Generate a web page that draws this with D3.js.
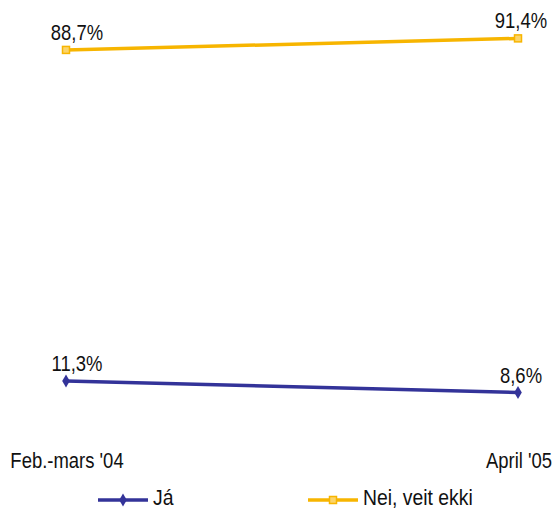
<!DOCTYPE html>
<html><head><meta charset="utf-8">
<script src="https://cdn.jsdelivr.net/npm/d3@7"></script>
<style>body{margin:0;background:#fff}svg{display:block}</style>
</head><body>
<script>
const categories = ["Feb.-mars '04", "April '05"];
const seriesNames = ["Já", "Nei, veit ekki"];
const jaValues = [11.3, 8.6];
const neiValues = [88.7, 91.4];
const colors = ["#333399", "#F7B500"];

const W = 554, H = 509;
const svg = d3.select("body").append("svg").attr("width", W).attr("height", H);
const x = d3.scalePoint().domain(categories).range([66, 518]);
const y = d3.scaleLinear().domain([0, 100]).range([429.3, 1.6]);
const fmt = v => d3.format(".1f")(v).replace(".", ",") + "%";
const font = "'Liberation Sans',Arial,sans-serif";

function narrowText(g, tx, ty, str, anchor, sx) {
  return g.append("text").attr("transform", `translate(${tx},${ty}) scale(${sx || 0.84},1)`)
    .attr("text-anchor", anchor || "start").attr("font-family", font).attr("font-size", 22)
    .attr("fill", "#111").text(str);
}

const series = [jaValues, neiValues];
const labelDx = [11, 3];

series.forEach((vals, si) => {
  const pts = vals.map((v, i) => [x(categories[i]), y(v)]);
  svg.append("path").attr("d", d3.line()(pts)).attr("fill", "none")
    .attr("stroke", colors[si]).attr("stroke-width", 3.5);
  pts.forEach((p, i) => {
    drawMarker(svg, si, p[0], p[1]);
    narrowText(svg, p[0] + labelDx[i], p[1] - 10, fmt(vals[i]), "middle");
  });
});

function drawMarker(g, si, cx, cy) {
  if (si === 0) {
    g.append("path").attr("d", d3.symbol(d3.symbolDiamond, 50)())
      .attr("transform", `translate(${cx},${cy})`).attr("fill", colors[0]);
  } else {
    g.append("rect").attr("x", cx - 3.5).attr("y", cy - 3.5).attr("width", 7).attr("height", 7)
      .attr("fill", "#FBD46A").attr("stroke", colors[1]).attr("stroke-width", 1.5);
  }
}

categories.forEach(c => {
  narrowText(svg, x(c) + 1, 468, c, "middle");
});

const legX = [98, 308];
seriesNames.forEach((n, si) => {
  const ly = 500;
  svg.append("line").attr("x1", legX[si]).attr("x2", legX[si] + 50).attr("y1", ly).attr("y2", ly)
    .attr("stroke", colors[si]).attr("stroke-width", 3.5);
  drawMarker(svg, si, legX[si] + 25, ly);
  narrowText(svg, legX[si] + 55, 505, n, "start", 0.88);
});
</script>
</body></html>
